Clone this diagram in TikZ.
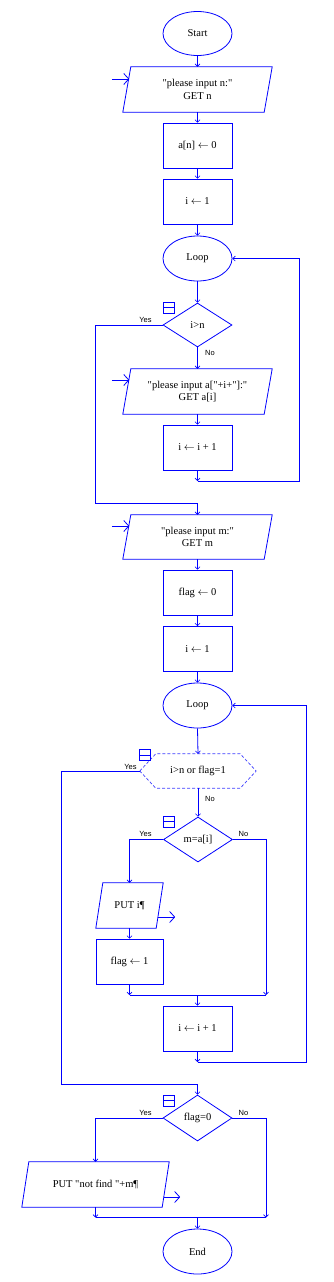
\documentclass[tikz,border=0pt]{standalone}
\usepackage{fontspec}
\setmainfont{Liberation Serif}[Ligatures=TeXOff]
\newfontfamily\lblfont{Liberation Sans}
\usetikzlibrary{shapes.geometric,arrows.meta,calc}
\definecolor{fcblue}{RGB}{0,0,255}
\definecolor{fcdash}{RGB}{60,60,255}
\newcommand\drawpara[2]{\draw[shapeline] ([xshift=#2]#1.north west) -- ([xshift=#2]#1.north east) -- ([xshift=-#2]#1.south east) -- ([xshift=-#2]#1.south west) -- cycle;}
\begin{document}
\begin{tikzpicture}[x=1pt,y=-1pt,
  shapeline/.style={draw=fcblue,line width=0.8pt},
  line/.style={draw=fcblue,line width=0.8pt},
  arr/.style={line,-{Straight Barb[length=2.5pt,width=5pt,line width=0.6pt]}},
  ioarr/.style={line,-{Straight Barb[length=5pt,width=11pt,line width=0.8pt]}},
  txt/.style={font=\fontsize{10.5}{12.5}\selectfont, align=center, text=black},
  term/.style={txt,ellipse,draw=fcblue,line width=0.8pt,minimum width=69pt,minimum height=44pt,inner sep=0pt},
  proc/.style={txt,rectangle,draw=fcblue,line width=0.8pt,minimum width=69pt,minimum height=45pt,inner sep=0pt},
  dec/.style={txt,diamond,draw=fcblue,line width=0.8pt,minimum width=69pt,minimum height=44pt,inner sep=0pt,aspect=1.57},
  io/.style={txt,rectangle,minimum height=45pt,inner sep=0pt},
  lbl/.style={font=\lblfont\fontsize{7.5}{8}\selectfont, inner sep=0pt, anchor=base, text=black},
  icon/.style={draw=fcblue,line width=0.7pt,minimum size=11pt,inner sep=0pt,
    path picture={\draw[fcblue,line width=0.7pt] (path picture bounding box.west) -- (path picture bounding box.east);}}
]
\useasboundingbox (0,0) rectangle (333,1282);

% nodes
\node[term] (start) at (197.5,33.5) {Start};
\node[io,minimum width=141pt] (in1) at (197.5,89.5) {"please input n:"\\GET n};
\drawpara{in1}{4pt}
\node[proc] (a0) at (197.5,145.5) {a[n] $\leftarrow$ 0};
\node[proc] (i1) at (197.5,201.5) {i $\leftarrow$ 1};
\node[term,minimum height=45pt] (loop1) at (197.5,258.5) {Loop};
\node[dec] (d1) at (197.5,325) {i>n};
\node[io,minimum width=141pt] (in2) at (197.5,391.5) {"please input a["+i+"]:"\\GET a[i]};
\drawpara{in2}{4pt}
\node[proc] (inc1) at (197.5,447.5) {i $\leftarrow$ i + 1};
\node[io,minimum width=141pt,minimum height=44pt] (in3) at (197.5,537) {"please input m:"\\GET m};
\drawpara{in3}{4pt}
\node[proc] (f0) at (197.5,592.5) {flag $\leftarrow$ 0};
\node[proc] (i2) at (197.5,649) {i $\leftarrow$ 1};
\node[term,minimum height=45pt] (loop2) at (197.5,705.5) {Loop};
\node[txt,minimum width=116pt,minimum height=34pt,inner sep=0pt] (h1) at (198,771) {i>n or flag=1};
\draw[draw=fcdash,line width=0.7pt,dash pattern=on 3pt off 2pt] (h1.west) -- ([xshift=16pt]h1.north west) -- ([xshift=-16pt]h1.north east) -- (h1.east) -- ([xshift=-16pt]h1.south east) -- ([xshift=16pt]h1.south west) -- cycle;
\node[dec,minimum height=45pt] (d2) at (198,839.5) {m=a[i]};
\node[io,minimum width=60pt] (out1) at (129.5,905.5) {PUT i¶};
\drawpara{out1}{3.5pt}
\node[proc,minimum width=67pt] (f1) at (129.5,961.5) {flag $\leftarrow$ 1};
\node[proc] (inc2) at (197.5,1028.5) {i $\leftarrow$ i + 1};
\node[dec,minimum height=46pt] (d3) at (197.5,1118) {flag=0};
\node[io,minimum width=140pt] (out2) at (95.5,1184.5) {PUT "not find "+m¶};
\drawpara{out2}{3.5pt}
\node[term,minimum height=45pt] (end) at (197.5,1251.5) {End};

% icons
\node[icon] (ic1) at (168.5,307.5) {};
\node[icon] (ic2) at (145,755) {};
\node[icon] (ic3) at (168.5,821.5) {};
\node[icon] (ic4) at (168.5,1100.5) {};

% labels
\node[lbl] (y1) at (145.5,322) {Yes};
\node[lbl,anchor=base west] (n1) at (205,355) {No};
\node[lbl] (y2) at (130.5,769) {Yes};
\node[lbl,anchor=base west] (n2) at (205,801.5) {No};
\node[lbl] (y3) at (145.5,836) {Yes};
\node[lbl,anchor=base west] (n3) at (238.5,836) {No};
\node[lbl] (y4) at (145.5,1115) {Yes};
\node[lbl,anchor=base west] (n4) at (238.5,1115) {No};

% coordinates
\coordinate (c1) at (95,503);
\coordinate (m1) at (197.5,481);
\coordinate (r1) at (299,481);
\coordinate (c2) at (61,1084);
\coordinate (m2l) at (129.5,995);
\coordinate (m2c) at (197.5,995);
\coordinate (m2r) at (266,995);
\coordinate (m3) at (197.5,1062);
\coordinate (r3) at (306,1062);
\coordinate (m4l) at (95.5,1217.5);
\coordinate (m4c) at (197.5,1217.5);
\coordinate (m4r) at (266,1217.5);

% connectors
\draw[arr] (start.south) -- (in1.north);
\draw[arr] (in1.south) -- (a0.north);
\draw[arr] (a0.south) -- (i1.north);
\draw[arr] (i1.south) -- (loop1.north);
\draw[arr] (loop1.south) -- (d1.north);
\draw[arr] (d1.south) -- (in2.north);
\draw[arr] (in2.south) -- (inc1.north);
\draw[arr] (inc1.south) -- (m1);
\draw[arr] (m1) -- (r1) |- (loop1.east);
\draw[arr] (d1.west) -| (c1) -| (in3.north);
\draw[arr] (in3.south) -- (f0.north);
\draw[arr] (f0.south) -- (i2.north);
\draw[arr] (i2.south) -- (loop2.north);
\draw[arr] (loop2.south) -- (h1.north);
\draw[arr] (h1.south) -- (d2.north);
\draw[arr] (h1.west) -| (c2) -| (d3.north);
\draw[arr] (d2.west) -| (out1.north);
\draw[arr] (out1.south) -- (f1.north);
\draw[arr] (f1.south) -- (m2l);
\draw[line] (m2l) -- (m2r);
\draw[arr] (d2.east) -| (m2r);
\draw[arr] (m2c) -- (inc2.north);
\draw[arr] (inc2.south) -- (m3);
\draw[arr] (m3) -- (r3) |- (loop2.east);
\draw[arr] (d3.west) -| (out2.north);
\draw[arr] (d3.east) -| (m4r);
\draw[arr] (out2.south) -- (m4l);
\draw[line] (m4l) -- (m4r);
\draw[arr] (m4c) -- (end.north);

% input / output arrows
\draw[ioarr] ([xshift=-15pt,yshift=10.5pt]in1.west) -- ([xshift=2.5pt,yshift=10.5pt]in1.west);
\draw[ioarr] ([xshift=-15pt,yshift=11.5pt]in2.west) -- ([xshift=2.5pt,yshift=11.5pt]in2.west);
\draw[ioarr] ([xshift=-15pt,yshift=11pt]in3.west) -- ([xshift=2.5pt,yshift=11pt]in3.west);
\draw[ioarr] ([xshift=-2pt,yshift=-11.5pt]out1.east) -- ([xshift=15.5pt,yshift=-11.5pt]out1.east);
\draw[ioarr] ([xshift=-2pt,yshift=-12.5pt]out2.east) -- ([xshift=14.5pt,yshift=-12.5pt]out2.east);
\end{tikzpicture}
\end{document}
